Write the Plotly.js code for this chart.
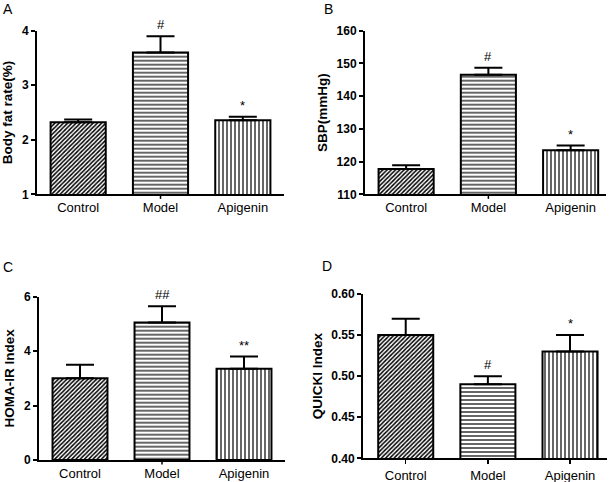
<!DOCTYPE html>
<html>
<head>
<meta charset="utf-8">
<script src="https://cdn.plot.ly/plotly-3.0.1.min.js"></script>
<style>html,body{margin:0;padding:0;background:#fff;}#chart{width:614px;height:482px;}</style>
</head>
<body>
<div id="chart"></div>
<script>
// ---- data ----
const categories = ['Control', 'Model', 'Apigenin'];

const bodyFat = [2.32, 3.60, 2.36];
const bodyFatErr = [0.05, 0.30, 0.06];
const bodyFatMarks = ['', '#', '*'];

const sbp = [117.7, 146.5, 123.5];
const sbpErr = [1.2, 2.2, 1.4];
const sbpMarks = ['', '#', '*'];

const homa = [3.0, 5.05, 3.35];
const homaErr = [0.5, 0.6, 0.45];
const homaMarks = ['', '##', '**'];

const quicki = [0.55, 0.49, 0.53];
const quickiErr = [0.02, 0.01, 0.02];
const quickiMarks = ['', '#', '*'];

const panelLetters = ['A', 'B', 'C', 'D'];
const yTitles = ['Body fat rate(%)', 'SBP(mmHg)', 'HOMA-IR Index', 'QUICKI Index'];

// ---- styling ----
const FONT = 'Liberation Sans, Arial, Helvetica, sans-serif';
const patterns = ['/', '-', '|'];
const patternSizes = [3, 4, 4];
const patternSolid = [0.5, 0.3, 0.3];

const panels = [
  {vals: bodyFat, err: bodyFatErr, marks: bodyFatMarks, range: [1, 4], dtick: 1, fmt: '',
   xd: [37/614, 284/614], yd: [1-194.3/482, 1-30.7/482], xr: [-0.5, 2.5], allTicks: false},
  {vals: sbp, err: sbpErr, marks: sbpMarks, range: [110, 160], dtick: 10, fmt: '',
   xd: [365/614, 606/614], yd: [1-194.3/482, 1-30.7/482], xr: [-0.5, 2.43], allTicks: false},
  {vals: homa, err: homaErr, marks: homaMarks, range: [0, 6], dtick: 2, fmt: '',
   xd: [39/614, 285/614], yd: [1-460/482, 1-296.7/482], xr: [-0.5, 2.5], allTicks: false},
  {vals: quicki, err: quickiErr, marks: quickiMarks, range: [0.40, 0.60], dtick: 0.05, fmt: '.2f',
   xd: [363/614, 607/614], yd: [1-458.3/482, 1-294/482], xr: [-0.52, 2.45], allTicks: true}
];

const letterPos = [[8, 9], [328, 9], [8, 267], [327, 266]];

const data = [];
const layout = {
  width: 614, height: 482,
  margin: {l: 0, r: 0, t: 0, b: 0},
  paper_bgcolor: '#fff', plot_bgcolor: '#fff',
  showlegend: false,
  font: {family: FONT, color: '#000'},
  bargap: 0.33,
  annotations: [],
  shapes: []
};

panels.forEach((p, i) => {
  const n = i + 1;
  const xa = 'xaxis' + (n === 1 ? '' : n);
  const ya = 'yaxis' + (n === 1 ? '' : n);
  const xref = 'x' + (n === 1 ? '' : n);
  const yref = 'y' + (n === 1 ? '' : n);
  data.push({
    type: 'bar',
    x: categories,
    y: p.vals,
    xaxis: xref, yaxis: yref,
    marker: {
      color: '#fff',
      line: {color: '#000', width: 2},
      pattern: {shape: patterns, fgcolor: '#000', bgcolor: '#fff', size: patternSizes, solidity: patternSolid, fillmode: 'replace'}
    },
    error_y: {type: 'data', array: p.err, arrayminus: p.err.map(() => 0), symmetric: false,
              color: '#000', thickness: 2, width: 14},
    hoverinfo: 'skip'
  });
  layout[xa] = {
    domain: p.xd, anchor: yref, range: p.xr, type: 'category',
    showline: true, linecolor: '#000', linewidth: 2,
    showgrid: false, zeroline: false,
    ticks: p.allTicks ? 'outside' : '', ticklen: 4, tickwidth: 1.5, tickcolor: '#000',
    tickfont: {family: FONT, size: 13, color: '#000'},
    fixedrange: true
  };
  layout[ya] = {
    domain: p.yd, anchor: xref, range: p.range, dtick: p.dtick, tick0: p.range[0],
    tickformat: p.fmt,
    showline: true, linecolor: '#000', linewidth: 2,
    showgrid: false, zeroline: false,
    ticks: 'outside', ticklen: 4, tickwidth: 2, tickcolor: '#000',
    tickfont: {family: FONT, size: 12, color: '#000', weight: 'bold'},
    title: {text: yTitles[i], font: {family: FONT, size: 13.5, color: '#000', weight: 'bold'}, standoff: 6},
    fixedrange: true
  };
  if (!p.allTicks) {
    const mi = categories.indexOf('Model');
    layout.shapes.push({type: 'line', xref: xref, yref: yref + ' domain',
      x0: mi, x1: mi, y0: 0, y1: -0.028, line: {color: '#000', width: 1.5}});
  }
  categories.forEach((c, k) => {
    if (!p.marks[k]) return;
    layout.annotations.push({
      xref: xref, yref: yref, x: c, y: p.vals[k] + p.err[k],
      text: p.marks[k], showarrow: false, yanchor: 'bottom', yshift: 2,
      font: {family: FONT, size: 13, color: '#000'}
    });
  });
  layout.annotations.push({
    xref: 'paper', yref: 'paper',
    x: letterPos[i][0] / 614, y: 1 - letterPos[i][1] / 482,
    xanchor: 'center', yanchor: 'middle', showarrow: false,
    text: panelLetters[i], font: {family: FONT, size: 14, color: '#000'}
  });
});

Plotly.newPlot('chart', data, layout, {staticPlot: true, displayModeBar: false});
</script>
</body>
</html>
